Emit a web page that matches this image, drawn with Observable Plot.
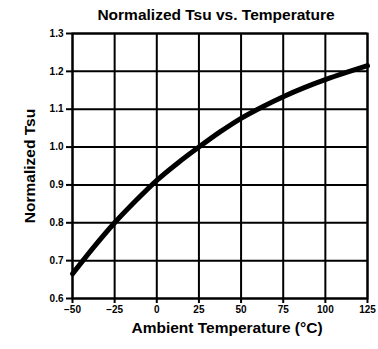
<!DOCTYPE html>
<html>
<head>
<meta charset="utf-8">
<script src="https://cdn.jsdelivr.net/npm/d3@7"></script>
<script src="https://cdn.jsdelivr.net/npm/@observablehq/plot@0.6"></script>
<style>
  html, body { margin: 0; padding: 0; background: #fff; }
  svg { font-family: "Liberation Sans", Arial, sans-serif; }
</style>
</head>
<body>
<div id="chart"></div>
<script>
const title = "Normalized Tsu vs. Temperature";
const xLabel = "Ambient Temperature (°C)";
const yLabel = "Normalized Tsu";
const temps = [-50, -37.5, -25, -12.5, 0, 12.5, 25, 37.5, 50, 62.5, 75, 87.5, 100, 112.5, 125];
const tsu   = [0.665, 0.735, 0.800, 0.858, 0.912, 0.958, 1.000, 1.040, 1.076, 1.106, 1.133, 1.157, 1.178, 1.197, 1.215];
const xTicks = [-50, -25, 0, 25, 50, 75, 100, 125];
const yTicks = [0.6, 0.7, 0.8, 0.9, 1.0, 1.1, 1.2, 1.3];

const data = temps.map((t, i) => ({t, v: tsu[i]}));

const chart = Plot.plot({
  width: 378,
  height: 349,
  marginLeft: 72,
  marginRight: 11,
  marginTop: 33,
  marginBottom: 51,
  style: {fontFamily: '"Liberation Sans", Arial, sans-serif', background: "#fff", color: "#000"},
  x: {domain: [-50, 125]},
  y: {domain: [0.6, 1.3]},
  marks: [
    Plot.gridX(xTicks, {stroke: "#000", strokeOpacity: 1, strokeWidth: 2}),
    Plot.gridY(yTicks, {stroke: "#000", strokeOpacity: 1, strokeWidth: 2}),
    Plot.frame({stroke: "#000", strokeWidth: 2}),
    Plot.axisX(xTicks, {tickSize: 5, tickPadding: 2, strokeWidth: 2, fontSize: 10, fontWeight: "bold",
      label: xLabel, labelAnchor: "center", labelArrow: "none", labelOffset: 34}),
    Plot.axisY(yTicks, {tickSize: 6, tickPadding: 3, strokeWidth: 2, fontSize: 10, fontWeight: "bold",
      tickFormat: d3.format(".1f"),
      label: yLabel, labelAnchor: "center", labelArrow: "none", labelOffset: 49}),
    Plot.line(data, {x: "t", y: "v", stroke: "#000", strokeWidth: 5, curve: "monotone-x"}),
    Plot.text([title], {frameAnchor: "top", dy: -25, dx: -4, fontSize: 15.5, fontWeight: "bold", fill: "#000"})
  ]
});

chart.querySelectorAll('[aria-label="x-axis label"] text').forEach(t => {
  t.setAttribute("font-weight", "bold");
  t.setAttribute("font-size", "15.5");
  t.setAttribute("dx", "7");
});
chart.querySelectorAll('[aria-label="y-axis label"] text').forEach(t => {
  t.setAttribute("font-weight", "bold");
  t.setAttribute("font-size", "15.5");
});
document.getElementById("chart").appendChild(chart);
</script>
</body>
</html>
